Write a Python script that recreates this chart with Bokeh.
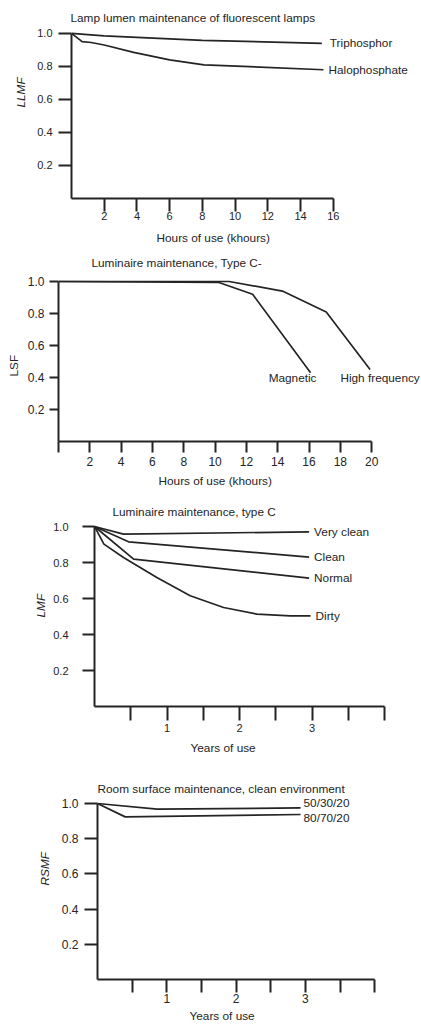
from bokeh.plotting import figure
from bokeh.models import Range1d, FixedTicker, NumeralTickFormatter, Title
from bokeh.layouts import column, row
from bokeh.embed import file_html
from bokeh.resources import INLINE
from bokeh.core.properties import value

# ---------------- data ----------------
y_ticks = [0.2, 0.4, 0.6, 0.8, 1.0]

# Panel 1: lamp lumen maintenance
lamp_hours_tri = [0, 2, 8, 15.3]
lamp_llmf_tri = [1.0, 0.985, 0.958, 0.94]
lamp_hours_halo = [0, 0.65, 1.2, 2, 3.8, 6, 8.1, 15.4]
lamp_llmf_halo = [1.0, 0.95, 0.945, 0.93, 0.885, 0.84, 0.81, 0.78]
lamp_x_ticks = [2, 4, 6, 8, 10, 12, 14, 16]

# Panel 2: luminaire survival, type C-
lsf_hours_mag = [0, 10.2, 12.4, 16.1]
lsf_mag = [1.0, 0.995, 0.92, 0.43]
lsf_hours_hf = [0, 10.9, 14.3, 17.1, 19.9]
lsf_hf = [1.0, 1.0, 0.94, 0.81, 0.45]
lsf_x_ticks = [2, 4, 6, 8, 10, 12, 14, 16, 18, 20]

# Panel 3: luminaire maintenance, type C
lmf_years_vclean = [0, 0.40, 2.96]
lmf_vclean = [1.0, 0.958, 0.97]
lmf_years_clean = [0, 0.47, 2.96]
lmf_clean = [1.0, 0.915, 0.83]
lmf_years_normal = [0, 0.54, 2.96]
lmf_normal = [1.0, 0.819, 0.713]
lmf_years_dirty = [0, 0.13, 0.40, 0.86, 1.32, 1.78, 2.24, 2.70, 2.98]
lmf_dirty = [1.0, 0.902, 0.828, 0.717, 0.615, 0.55, 0.513, 0.504, 0.504]

# Panel 4: room surface maintenance
rsmf_years_503020 = [0, 0.86, 2.93]
rsmf_503020 = [1.0, 0.968, 0.975]
rsmf_years_807020 = [0, 0.40, 2.93]
rsmf_807020 = [1.0, 0.924, 0.9375]

year_ticks = [1, 2, 3]
year_minor = [0.5, 1.5, 2.5, 3.5, 4]

# ---------------- style ----------------
FONT = "Liberation Sans"
INK = "#242424"
W = 420
TXT = "11.8px"


def base(height, left, bottom, top, ppx, ppy, title, t_off, t_stand):
    fw = W - left
    fh = height - top - bottom
    p = figure(width=W, height=height, title=title,
               x_range=Range1d(0, fw / ppx), y_range=Range1d(0, fh / ppy),
               output_backend="svg", toolbar_location=None,
               min_border_left=left, min_border_right=0,
               min_border_top=top, min_border_bottom=bottom)
    if "frame_align" in p.properties():
        p.frame_align = False
    p.outline_line_color = None
    p.xgrid.visible = False
    p.ygrid.visible = False
    p.background_fill_color = "white"
    p.border_fill_color = "white"
    p.title.align = "left"
    p.title.offset = t_off
    p.title.standoff = t_stand
    p.title.text_font = FONT
    p.title.text_font_size = TXT
    p.title.text_font_style = "normal"
    p.title.text_color = INK
    return p


def axes(p, xticks, xminor, xbound, x_out, x_stand, y_out, y_stand, fsize):
    xa = p.xaxis[0]
    ya = p.yaxis[0]
    xa.ticker = FixedTicker(ticks=xticks, minor_ticks=xminor)
    xa.bounds = (0, xbound)
    ya.ticker = FixedTicker(ticks=y_ticks, minor_ticks=[])
    ya.bounds = (0, 1.0)
    ya.formatter = NumeralTickFormatter(format="0.0")
    xa.major_tick_out = x_out
    xa.minor_tick_out = x_out
    xa.major_label_standoff = x_stand
    ya.major_tick_out = y_out
    ya.minor_tick_out = 0
    ya.major_label_standoff = y_stand
    for a in (xa, ya):
        a.major_tick_in = 0
        a.minor_tick_in = 0
        a.axis_line_width = 2
        a.axis_line_color = INK
        a.major_tick_line_width = 2
        a.major_tick_line_color = INK
        a.minor_tick_line_width = 2
        a.minor_tick_line_color = INK
        a.major_label_text_font = FONT
        a.major_label_text_font_size = fsize
        a.major_label_text_color = INK


def axis_title(p, side, text, offset, standoff, style="normal"):
    p.add_layout(Title(text=text, align="left", offset=offset, standoff=standoff,
                       text_font=FONT, text_font_size=TXT, text_font_style=style,
                       text_color=INK), side)


def series(p, xs, ys, name, align, dx, dy):
    p.line(xs, ys, line_color=INK, line_width=1.7)
    p.text(x=[xs[-1]], y=[ys[-1]], text=[name], x_offset=dx, y_offset=dy,
           text_font=value(FONT), text_font_size=TXT, text_color=INK,
           text_align=align, text_baseline="middle")


# ---------------- panel 1 ----------------
p1 = base(250, 71, 50, 26, 16.36, 167,
          "Lamp lumen maintenance of fluorescent lamps", -1, 4)
axes(p1, lamp_x_ticks, [], 16, 13, 0, 13, 6, "11px")
axis_title(p1, "below", "Hours of use (khours)", 85, 12)
axis_title(p1, "left", "LLMF", 91, 14, "italic")
series(p1, lamp_hours_tri, lamp_llmf_tri, "Triphosphor", "left", 8, 0)
series(p1, lamp_hours_halo, lamp_llmf_halo, "Halophosphate", "left", 5, 0)

# ---------------- panel 2 ----------------
p2 = base(250, 54, 59, 22, 15.83, 160,
          "Luminaire maintenance, Type C-", 33, 5)
axes(p2, lsf_x_ticks, [0], 20, 11, 4, 9, 5, "12px")
axis_title(p2, "below", "Hours of use (khours)", 100, 6)
axis_title(p2, "left", "LSF", 65, 8, "normal")
series(p2, lsf_hours_mag, lsf_mag, "Magnetic", "center", -18, 5)
series(p2, lsf_hours_hf, lsf_hf, "High frequency", "center", 10, 8)

# ---------------- panel 3 ----------------
p3 = base(260, 94, 54, 20, 72.5, 180,
          "Luminaire maintenance, type C", 18, 3)
axes(p3, year_ticks, year_minor, 4, 14, 3, 12, 14, "11px")
axis_title(p3, "below", "Years of use", 96, 8)
axis_title(p3, "left", "LMF", 89, 6, "italic")
series(p3, lmf_years_vclean, lmf_vclean, "Very clean", "left", 5, 0)
series(p3, lmf_years_clean, lmf_clean, "Clean", "left", 5, 0)
series(p3, lmf_years_normal, lmf_normal, "Normal", "left", 5, 0)
series(p3, lmf_years_dirty, lmf_dirty, "Dirty", "left", 5, 0)

# ---------------- panel 4 ----------------
p4 = base(264, 97, 45, 36, 69.3, 176,
          "Room surface maintenance, clean environment", 0, 2)
axes(p4, year_ticks, year_minor, 4, 13, 1, 13, 6, "12px")
axis_title(p4, "below", "Years of use", 92, 2)
axis_title(p4, "left", "RSMF", 94, 14, "italic")
series(p4, rsmf_years_503020, rsmf_503020, "50/30/20", "left", 3, -5)
series(p4, rsmf_years_807020, rsmf_807020, "80/70/20", "left", 3, 3)

layout = column(row(p1), row(p2), row(p3), row(p4), spacing=0)
open("out.html", "w").write(file_html(layout, INLINE))
